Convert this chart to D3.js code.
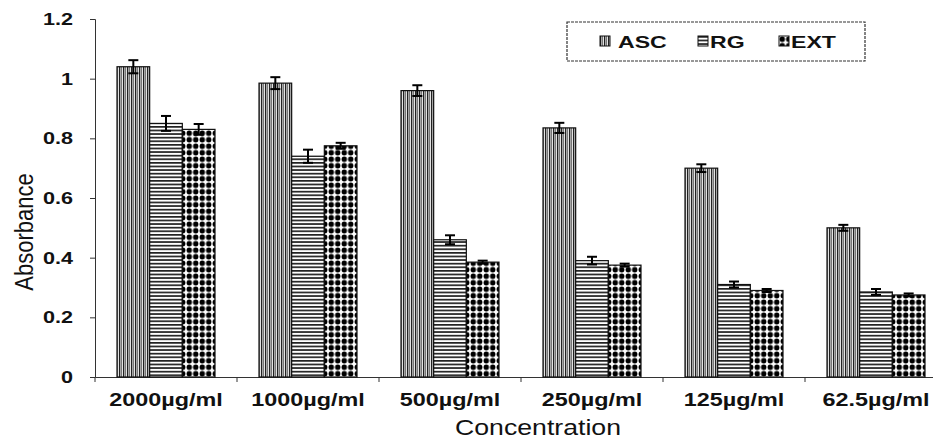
<!DOCTYPE html>
<html>
<head>
<meta charset="utf-8">
<script src="https://cdn.jsdelivr.net/npm/d3@7"></script>
<style>
  body { margin: 0; background: #fff; }
  text { font-family: "Liberation Sans", Arial, sans-serif; fill: #111; }
</style>
</head>
<body>
<div id="chart"></div>
<script>
// data
const categories = ["2000µg/ml", "1000µg/ml", "500µg/ml", "250µg/ml", "125µg/ml", "62.5µg/ml"];
const seriesNames = ["ASC", "RG", "EXT"];
const ascValues = [1.04, 0.985, 0.96, 0.835, 0.70, 0.50];
const rgValues  = [0.85, 0.74, 0.46, 0.39, 0.31, 0.285];
const extValues = [0.83, 0.775, 0.385, 0.375, 0.29, 0.275];
const ascErr = [0.022, 0.02, 0.018, 0.017, 0.013, 0.01];
const rgErr  = [0.025, 0.022, 0.015, 0.013, 0.01, 0.01];
const extErr = [0.018, 0.01, 0.005, 0.005, 0.005, 0.005];
const yTicks = [0, 0.2, 0.4, 0.6, 0.8, 1, 1.2];

const values = { ASC: ascValues, RG: rgValues, EXT: extValues };
const errors = { ASC: ascErr, RG: rgErr, EXT: extErr };

const W = 933, H = 442;
const sx = 1.35; // the original picture is stretched sideways

const svg = d3.select('#chart').append('svg')
    .attr('width', W)
    .attr('height', H);

// fill patterns
const defs = svg.append('defs');
const pA = defs.append('pattern').attr('id', 'pat-ASC')
    .attr('patternUnits', 'userSpaceOnUse').attr('width', 4).attr('height', 4);
pA.append('rect').attr('width', 4).attr('height', 4).attr('fill', '#fff');
pA.append('rect').attr('x', 0).attr('width', 1.4).attr('height', 4).attr('fill', '#222');
pA.append('rect').attr('x', 2).attr('width', 1.2).attr('height', 4).attr('fill', '#777');

const pR = defs.append('pattern').attr('id', 'pat-RG')
    .attr('patternUnits', 'userSpaceOnUse').attr('width', 4).attr('height', 3.6);
pR.append('rect').attr('width', 4).attr('height', 3.6).attr('fill', '#fff');
pR.append('rect').attr('y', 0).attr('width', 4).attr('height', 1.7).attr('fill', '#222');

const pE = defs.append('pattern').attr('id', 'pat-EXT')
    .attr('patternUnits', 'userSpaceOnUse').attr('width', 6.5).attr('height', 6.5);
pE.append('rect').attr('width', 6.5).attr('height', 6.5).attr('fill', '#fff');
pE.append('circle').attr('cx', 3.25).attr('cy', 3.25).attr('r', 2.7).attr('fill', '#000');

// scales
const x0 = d3.scaleBand().domain(categories).range([95, 947]);
const x1 = d3.scaleBand().domain(seriesNames).range([22, 120]);
const y = d3.scaleLinear().domain([0, 1.2]).range([377, 19]);

// y axis
const yAxis = svg.append('g').attr('transform', 'translate(95,0)')
    .call(d3.axisLeft(y).tickValues(yTicks).tickSize(5).tickFormat(d3.format('~g')));
yAxis.select('.domain').attr('stroke', '#333');
yAxis.selectAll('.tick line').attr('stroke', '#333');
yAxis.selectAll('.tick text').remove();
yAxis.selectAll('.tick').append('g')
    .attr('transform', 'translate(-22,5.5) scale(' + sx + ',1)')
    .append('text')
    .attr('text-anchor', 'end')
    .attr('font-size', 16)
    .attr('font-weight', 'bold')
    .text(d => d3.format('~g')(d));

// x axis
const xAxis = svg.append('g').attr('transform', 'translate(0,377)')
    .call(d3.axisBottom(x0).tickSize(0).tickFormat(''));
xAxis.select('.domain').attr('stroke', '#333');
xAxis.selectAll('.tick').remove();
xAxis.selectAll('.sep')
    .data(categories)
    .enter().append('line')
    .attr('x1', d => x0(d)).attr('x2', d => x0(d))
    .attr('y1', 0).attr('y2', 5)
    .attr('stroke', '#333');
xAxis.selectAll('.lab')
    .data(categories)
    .enter().append('g')
    .attr('transform', d => 'translate(' + (x0(d) + x0.bandwidth() / 2) + ',29) scale(1.3,1)')
    .append('text')
    .attr('text-anchor', 'middle')
    .attr('font-size', 18)
    .attr('font-weight', 'bold')
    .text(d => d);

// bars
const groups = svg.append('g').selectAll('g')
    .data(categories)
    .enter().append('g')
    .attr('transform', d => 'translate(' + x0(d) + ',0)');

groups.selectAll('rect')
    .data((d, i) => seriesNames.map(s => ({ s: s, v: values[s][i], e: errors[s][i] })))
    .enter().append('rect')
    .attr('x', d => x1(d.s))
    .attr('y', d => y(d.v))
    .attr('width', x1.bandwidth())
    .attr('height', d => y(0) - y(d.v))
    .attr('fill', d => 'url(#pat-' + d.s + ')')
    .attr('stroke', '#111')
    .attr('stroke-width', 1.2);

// error bars
const eb = groups.selectAll('g.err')
    .data((d, i) => seriesNames.map(s => ({ s: s, v: values[s][i], e: errors[s][i] })))
    .enter().append('g').attr('class', 'err')
    .attr('stroke', '#000').attr('stroke-width', 2);
eb.append('line')
    .attr('x1', d => x1(d.s) + x1.bandwidth() / 2)
    .attr('x2', d => x1(d.s) + x1.bandwidth() / 2)
    .attr('y1', d => y(d.v + d.e))
    .attr('y2', d => y(d.v - d.e));
eb.append('line')
    .attr('x1', d => x1(d.s) + x1.bandwidth() / 2 - 5)
    .attr('x2', d => x1(d.s) + x1.bandwidth() / 2 + 5)
    .attr('y1', d => y(d.v + d.e))
    .attr('y2', d => y(d.v + d.e));
eb.append('line')
    .attr('x1', d => x1(d.s) + x1.bandwidth() / 2 - 5)
    .attr('x2', d => x1(d.s) + x1.bandwidth() / 2 + 5)
    .attr('y1', d => y(d.v - d.e))
    .attr('y2', d => y(d.v - d.e));

// axis titles
svg.append('g')
    .attr('transform', 'translate(33,232) rotate(-90) scale(1,1.2)')
    .append('text')
    .attr('text-anchor', 'middle')
    .attr('font-size', 22)
    .text('Absorbance');

svg.append('g')
    .attr('transform', 'translate(538,435) scale(1.24,1)')
    .append('text')
    .attr('text-anchor', 'middle')
    .attr('font-size', 21.5)
    .text('Concentration');

// legend
const legend = svg.append('g');
legend.append('rect')
    .attr('x', 567).attr('y', 22)
    .attr('width', 298).attr('height', 39)
    .attr('fill', '#fff')
    .attr('stroke', '#333')
    .attr('stroke-width', 1.2)
    .attr('stroke-dasharray', '3,1');
const legendX = { ASC: 600, RG: 698, EXT: 779 };
const legendTextX = { ASC: 18, RG: 12, EXT: 12 };
const items = legend.selectAll('g.item')
    .data(seriesNames)
    .enter().append('g').attr('class', 'item')
    .attr('transform', d => 'translate(' + legendX[d] + ',36)');
items.append('rect')
    .attr('width', 10).attr('height', 10)
    .attr('fill', d => 'url(#pat-' + d + ')')
    .attr('stroke', '#111');
items.append('g')
    .attr('transform', d => 'translate(' + legendTextX[d] + ',11.5) scale(1.4,1)')
    .append('text')
    .attr('font-size', 16.5)
    .attr('font-weight', 'bold')
    .text(d => d);
</script>
</body>
</html>
